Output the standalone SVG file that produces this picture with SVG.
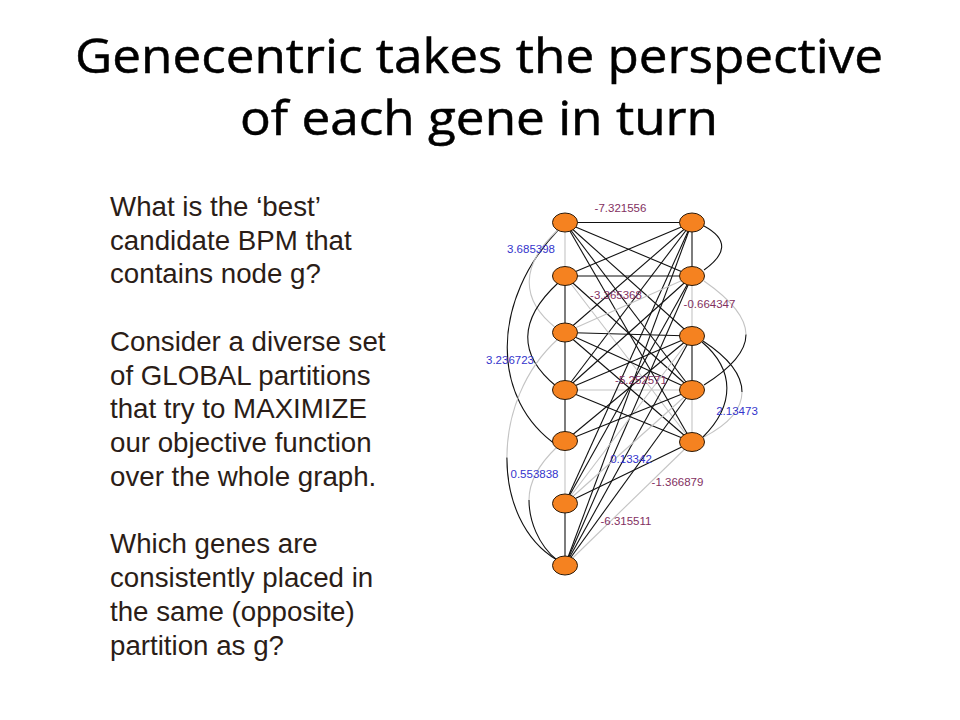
<svg xmlns="http://www.w3.org/2000/svg" width="960" height="720" viewBox="0 0 960 720">
<style>
.title{font-family:"Open Sans","Noto Sans","Liberation Sans",sans-serif;font-size:47px;fill:#000;text-anchor:middle;stroke:#000;stroke-width:0.5}
.body{font-family:"Liberation Sans",Arial,sans-serif;font-size:27.7px;fill:#2b1d17}
.e{stroke:#111;stroke-width:1.1;fill:none}
.g{stroke:#c4c4c4;stroke-width:1.1;fill:none}
.node{fill:#f58220;stroke:#2a1a0a;stroke-width:1}
.lbl{font-family:"Liberation Sans",Arial,sans-serif;font-size:11.5px;text-anchor:middle}
.neg{fill:#83305f}
.pos{fill:#3434cc}
</style>
<rect width="960" height="720" fill="#fff"/>
<g id="title">
<text class="title" x="479" y="73" textLength="808" lengthAdjust="spacingAndGlyphs">Genecentric takes the perspective</text>
<text class="title" x="479" y="135" textLength="478" lengthAdjust="spacingAndGlyphs">of each gene in turn</text>
</g>
<g id="body-text" class="body">
<text x="110" y="216">What is the ‘best’</text>
<text x="110" y="250">candidate BPM that</text>
<text x="110" y="283">contains node g?</text>
<text x="110" y="351">Consider a diverse set</text>
<text x="110" y="385">of GLOBAL partitions</text>
<text x="110" y="418">that try to MAXIMIZE</text>
<text x="110" y="452">our objective function</text>
<text x="110" y="486">over the whole graph.</text>
<text x="110" y="553">Which genes are</text>
<text x="110" y="587">consistently placed in</text>
<text x="110" y="621">the same (opposite)</text>
<text x="110" y="655">partition as g?</text>
</g>
<g id="connectors">
<line class="g" x1="565" y1="222.5" x2="565" y2="276"/>
<line class="e" x1="565" y1="276" x2="565" y2="332.5"/>
<line class="e" x1="565" y1="332.5" x2="565" y2="390"/>
<line class="e" x1="565" y1="390" x2="565" y2="441"/>
<line class="g" x1="565" y1="441" x2="565" y2="503.5"/>
<line class="e" x1="565" y1="503.5" x2="565" y2="565.5"/>
<line class="e" x1="692" y1="222.5" x2="692" y2="276"/>
<line class="g" x1="692" y1="276" x2="692" y2="336"/>
<line class="e" x1="692" y1="336" x2="692" y2="390"/>
<line class="g" x1="692" y1="390" x2="692" y2="442"/>
<line class="e" x1="565" y1="222.5" x2="692" y2="222.5"/>
<line class="e" x1="565" y1="276" x2="692" y2="276"/>
<line class="e" x1="565" y1="332.5" x2="692" y2="336"/>
<line class="g" x1="565" y1="390" x2="692" y2="390"/>
<line class="e" x1="565" y1="222.5" x2="692" y2="276"/>
<line class="e" x1="565" y1="222.5" x2="692" y2="336"/>
<line class="e" x1="565" y1="222.5" x2="692" y2="390"/>
<line class="e" x1="565" y1="222.5" x2="692" y2="442"/>
<line class="e" x1="692" y1="222.5" x2="565" y2="276"/>
<line class="e" x1="692" y1="222.5" x2="565" y2="332.5"/>
<line class="e" x1="692" y1="222.5" x2="565" y2="390"/>
<line class="e" x1="692" y1="222.5" x2="565" y2="503.5"/>
<line class="e" x1="692" y1="222.5" x2="565" y2="565.5"/>
<line class="e" x1="565" y1="276" x2="692" y2="390"/>
<line class="g" x1="565" y1="276" x2="692" y2="442"/>
<line class="g" x1="692" y1="276" x2="565" y2="332.5"/>
<line class="e" x1="692" y1="276" x2="565" y2="390"/>
<line class="e" x1="692" y1="276" x2="565" y2="503.5"/>
<line class="e" x1="692" y1="276" x2="565" y2="565.5"/>
<line class="e" x1="565" y1="332.5" x2="692" y2="390"/>
<line class="e" x1="565" y1="332.5" x2="692" y2="442"/>
<line class="e" x1="692" y1="336" x2="565" y2="390"/>
<line class="e" x1="692" y1="336" x2="565" y2="441"/>
<line class="g" x1="692" y1="336" x2="565" y2="503.5"/>
<line class="e" x1="692" y1="336" x2="565" y2="565.5"/>
<line class="e" x1="565" y1="390" x2="692" y2="442"/>
<line class="e" x1="692" y1="390" x2="565" y2="441"/>
<line class="g" x1="692" y1="390" x2="565" y2="503.5"/>
<line class="e" x1="692" y1="390" x2="565" y2="565.5"/>
<line class="e" x1="692" y1="442" x2="565" y2="503.5"/>
<line class="g" x1="692" y1="442" x2="565" y2="565.5"/>
<path class="e" d="M560,228 C490,300 490,400 558,446"/>
<path class="g" d="M558,230 C520,265 520,300 556,328"/>
<path class="e" d="M558,283 C518,320 518,355 556,386"/>
<path class="g" d="M558,339 C524,369.5 507,414.75 506.9,457.4"/>
<path class="e" d="M506.9,457.4 C506.75,500 523.5,540 557,560"/>
<path class="g" d="M557,447 C538,465 529,482 529,500"/>
<path class="e" d="M529,500 C529,520 538,545 557,560"/>
<path class="e" d="M704,226 C730,240 725,255 704,270"/>
<path class="g" d="M704,281 C732,300.5 746,317.75 746,334.5"/>
<path class="e" d="M746,334.5 C746,351.25 732,367.5 704,385"/>
<path class="e" d="M703,341 C729,358 742,375 742,392"/>
<path class="g" d="M742,392 C742,410 729,424 704,437"/>
<path class="e" d="M702,342 C735,370 735,405 703,437"/>
</g>
<g id="nodes">
<g id="L1"><ellipse class="node" cx="565" cy="222.5" rx="12.5" ry="9.5"/></g>
<g id="L2"><ellipse class="node" cx="565" cy="276" rx="12.5" ry="9.5"/></g>
<g id="L3"><ellipse class="node" cx="565" cy="332.5" rx="12.5" ry="9.5"/></g>
<g id="L4"><ellipse class="node" cx="565" cy="390" rx="12.5" ry="9.5"/></g>
<g id="L5"><ellipse class="node" cx="565" cy="441" rx="12.5" ry="9.5"/></g>
<g id="L6"><ellipse class="node" cx="565" cy="503.5" rx="12.5" ry="9.5"/></g>
<g id="L7"><ellipse class="node" cx="565" cy="565.5" rx="12.5" ry="9.5"/></g>
<g id="R1"><ellipse class="node" cx="692" cy="222.5" rx="12.5" ry="9.5"/></g>
<g id="R2"><ellipse class="node" cx="692" cy="276" rx="12.5" ry="9.5"/></g>
<g id="R3"><ellipse class="node" cx="692" cy="336" rx="12.5" ry="9.5"/></g>
<g id="R4"><ellipse class="node" cx="692" cy="390" rx="12.5" ry="9.5"/></g>
<g id="R5"><ellipse class="node" cx="692" cy="442" rx="12.5" ry="9.5"/></g>
</g>
<g id="edge-labels" class="lbl">
<text class="neg" x="620.5" y="212">-7.321556</text>
<text class="pos" x="531" y="253">3.685398</text>
<text class="neg" x="616" y="299">-3.365368</text>
<text class="neg" x="709.5" y="308">-0.664347</text>
<text class="pos" x="510" y="364">3.236723</text>
<text class="neg" x="641" y="384">-5.252571</text>
<text class="pos" x="737" y="415">2.13473</text>
<text class="pos" x="631" y="463">0.13342</text>
<text class="pos" x="534.5" y="478">0.553838</text>
<text class="neg" x="677.5" y="486">-1.366879</text>
<text class="neg" x="626" y="525">-6.315511</text>
</g>
</svg>
